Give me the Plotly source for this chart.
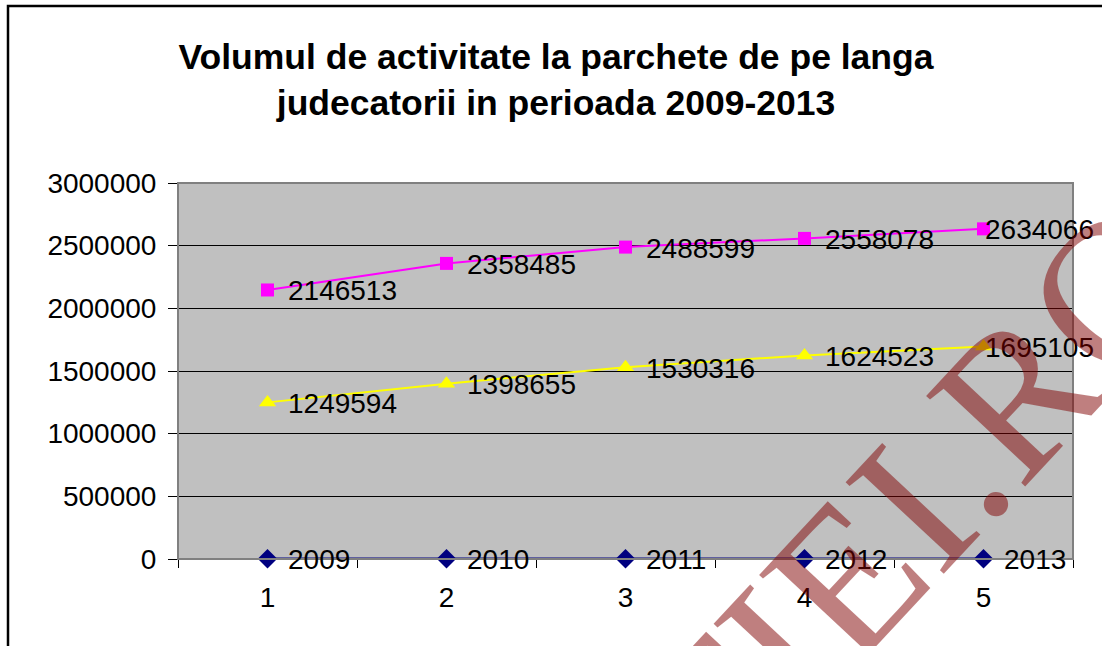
import plotly.graph_objects as go

# Category positions on the x axis and the values of each series
categories = [1, 2, 3, 4, 5]
years = [2009, 2010, 2011, 2012, 2013]
volum_total = [2146513, 2358485, 2488599, 2558078, 2634066]
volum_solutionat = [1249594, 1398655, 1530316, 1624523, 1695105]
y_ticks = [0, 500000, 1000000, 1500000, 2000000, 2500000, 3000000]

W, H = 1102, 646
L, R, T, B = 178, 29, 183, 87
PW, PH = W - L - R, H - T - B
FONT_SIZE = 28
label_font = dict(family="Liberation Sans, Arial", size=FONT_SIZE, color="black")

series = [
    dict(values=volum_total, color="#FF00FF", symbol="square", size=13, width=2),
    dict(values=volum_solutionat, color="#FFFF00", symbol="triangle-up", size=15, width=2),
    dict(values=years, color="#000080", symbol="diamond", size=15, width=2.5),
]

fig = go.Figure()
for s in series:
    fig.add_trace(go.Scatter(
        x=categories, y=s["values"], mode="lines+markers",
        line=dict(color=s["color"], width=s["width"]),
        marker=dict(symbol=s["symbol"], size=s["size"], color=s["color"]),
        cliponaxis=False, showlegend=False,
    ))

# value labels sit right of each marker; a label that would run past the
# plot edge is pulled back so it starts at its marker
cat_px = PW / (len(categories))
for s in series:
    for c, v in zip(categories, s["values"]):
        txt = str(v)
        est_w = len(txt) * 0.556 * FONT_SIZE
        marker_px = (c - 0.5) * cat_px
        shift = 18
        if marker_px + 21 + est_w > PW + 4:
            shift = -1
        fig.add_annotation(
            x=c, y=v, xref="x", yref="y", text=txt, showarrow=False,
            xanchor="left", yanchor="middle", xshift=shift, yshift=-1,
            font=label_font,
        )

def px_to_paper(px, py):
    return (px - L) / PW, (H - B - py) / PH

# outer chart frame
x0, y0 = px_to_paper(8, 6)
x1, y1 = px_to_paper(1130, 680)
fig.add_shape(type="rect", xref="paper", yref="paper", x0=x0, y0=y1, x1=x1, y1=y0,
              line=dict(color="black", width=2.5), layer="below")
# plot-area frame
fig.add_shape(type="rect", xref="paper", yref="paper", x0=0, y0=0, x1=1, y1=1,
              line=dict(color="#808080", width=2), layer="above")

# site watermark
wx, wy = px_to_paper(734, 696)
fig.add_annotation(
    xref="paper", yref="paper", x=wx, y=wy, xanchor="center", yanchor="middle",
    text="JUSTITIEI.RO", showarrow=False, textangle=-47,
    font=dict(family="Liberation Serif, Times New Roman", size=205, color="rgba(128,0,0,0.5)"),
)

fig.update_layout(
    width=W, height=H,
    margin=dict(l=L, r=R, t=T, b=B),
    paper_bgcolor="white", plot_bgcolor="#C0C0C0",
    title=dict(
        text="Volumul de activitate la parchete de pe langa<br>judecatorii in perioada 2009-2013",
        x=556 / W, y=1 - 69 / H, xanchor="center", yanchor="middle",
        font=dict(family="Liberation Sans, Arial", size=35.5, color="black", weight="bold"),
    ),
)
fig.update_xaxes(
    range=[0.5, 5.5], tickvals=categories, ticktext=[str(c) for c in categories],
    ticks="", showgrid=False, zeroline=False,
    showline=True, linecolor="black", linewidth=1,
    tickfont=label_font, ticklabelstandoff=13,
    minor=dict(tick0=0.5, dtick=1, ticks="outside", ticklen=8, tickcolor="black", showgrid=False),
)
fig.update_yaxes(
    range=[0, 3000000], tickvals=y_ticks, ticktext=[str(v) for v in y_ticks],
    ticks="outside", ticklen=9, tickcolor="black",
    showgrid=True, gridcolor="black", gridwidth=1, zeroline=False,
    showline=True, linecolor="black", linewidth=1,
    tickfont=label_font, ticklabelstandoff=6,
)

fig.write_html("out.html")
